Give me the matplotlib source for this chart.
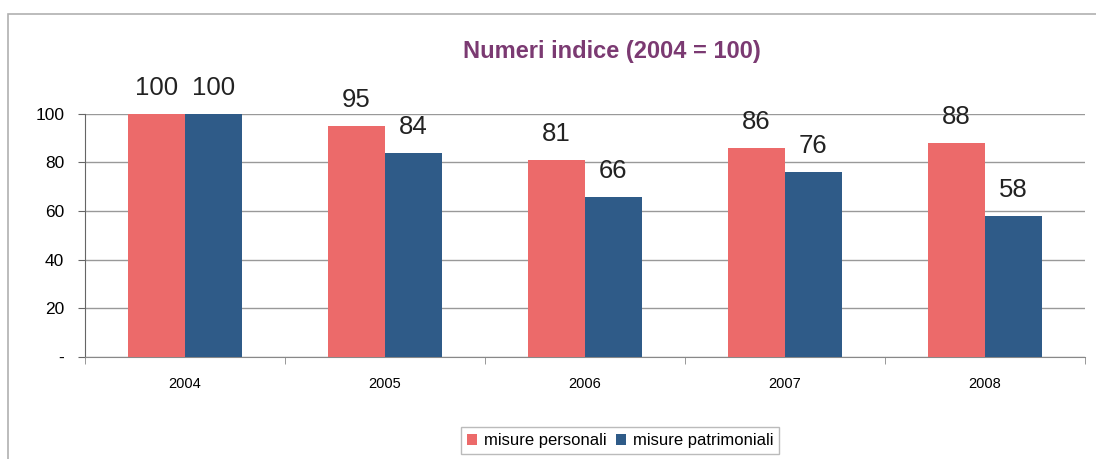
import matplotlib.pyplot as plt
import numpy as np
from matplotlib.patches import Rectangle

plt.rcParams["font.family"] = ["Liberation Sans", "DejaVu Sans"]

years = ["2004", "2005", "2006", "2007", "2008"]
personali = [100, 95, 81, 86, 88]
patrimoniali = [100, 84, 66, 76, 58]

fig = plt.figure(figsize=(10.96, 4.59), dpi=100)
ax = fig.add_axes([0.0776, 0.222, 0.912, 0.530])

# outer chart frame
fig.patches.append(Rectangle((8 / 1096, -0.1), 1.2, 1 - 14 / 459 + 0.1,
                             transform=fig.transFigure, fill=False,
                             edgecolor="#b0b0b0", linewidth=1.2))

x = np.arange(len(years))
w = 0.285
b1 = ax.bar(x - w / 2, personali, w, color="#ec6a6a", label="misure personali", zorder=3)
b2 = ax.bar(x + w / 2, patrimoniali, w, color="#2f5b88", label="misure patrimoniali", zorder=3)

for bars in (b1, b2):
    for r in bars:
        ax.annotate(f"{r.get_height():.0f}", (r.get_x() + r.get_width() / 2, r.get_height()),
                    xytext=(0, 10), textcoords="offset points", ha="center", va="bottom",
                    fontsize=18.5, color="#222222")

ax.set_xlim(-0.5, len(years) - 0.5)
ax.set_ylim(0, 100)
ax.set_yticks([0, 20, 40, 60, 80, 100])
ax.set_yticklabels(["-", "20", "40", "60", "80", "100"], fontsize=12.5)
ax.set_xticks(x)
ax.set_xticklabels(years, fontsize=10.5)
ax.set_xticks(np.arange(-0.5, len(years)), minor=True)
ax.tick_params(axis="x", which="major", length=0, pad=14)
ax.tick_params(axis="x", which="minor", length=5, direction="out", color="#888888")
ax.tick_params(axis="y", length=5, direction="out", color="#666666", pad=10)
ax.grid(axis="y", color="#999999", linewidth=1, zorder=0)
ax.set_axisbelow(True)
for s in ["top", "right"]:
    ax.spines[s].set_visible(False)
ax.spines["left"].set_color("#666666")
ax.spines["bottom"].set_color("#888888")

fig.text(0.558, 0.888, "Numeri indice (2004 = 100)", ha="center", va="center",
         fontsize=17, fontweight="bold", color="#7b3a72")

fig.legend(handles=[b1, b2], loc="center", bbox_to_anchor=(0.566, 0.04), ncol=2,
           fontsize=12, frameon=True, fancybox=False, edgecolor="#aaaaaa",
           handlelength=0.6, handleheight=0.6, handletextpad=0.4, columnspacing=0.6,
           borderpad=0.35)

fig.savefig("out.png", dpi=100)
